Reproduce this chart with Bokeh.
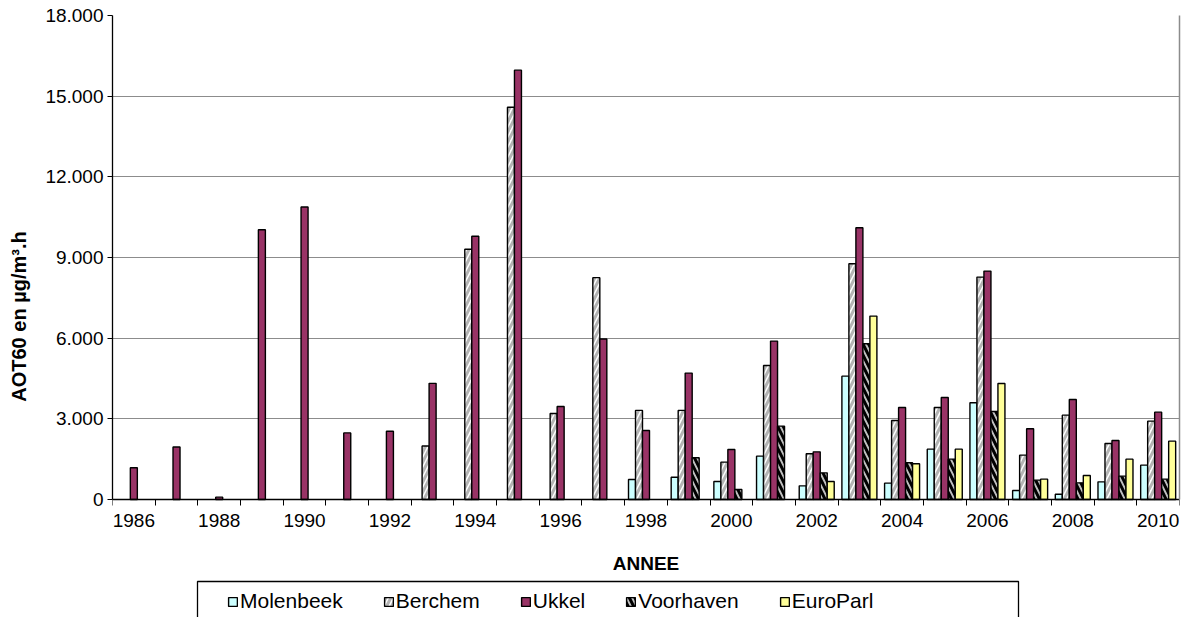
from bokeh.plotting import figure
from bokeh.models import (ColumnDataSource, Range1d, FixedTicker, Legend, LegendItem,
                          LinearAxis, BoxAnnotation)
from bokeh.embed import file_html
from bokeh.resources import INLINE

years = list(range(1986, 2011))
series_names = ["Molenbeek", "Berchem", "Ukkel", "Voorhaven", "EuroParl"]

molenbeek = [None] * 12 + [744, 830, 670, 1612, 508, 4588, 608, 1872, 3596, 335, 198, 657, 1277]
berchem = [None] * 7 + [1990, 9305, 14590, 3201, 8250, 3313, 3313, 1389, 4985, 1699, 8767,
                        2939, 3422, 8271, 1649, 3137, 2083, 2914]
ukkel = [1183, 1954, 87, 10030, 10880, 2477, 2539, 4320, 9789, 15968, 3461, 5970, 2568,
         4701, 1860, 5890, 1773, 10106, 3422, 3794, 8494, 2629, 3720, 2195, 3249]
voorhaven = [None] * 13 + [1552, 372, 2728, 992, 5791, 1364, 1500, 3274, 719, 620, 868, 756]
europarl = [None] * 16 + [670, 6820, 1327, 1872, 4315, 756, 893, 1500, 2170]

y_ticks = [0, 3000, 6000, 9000, 12000, 15000, 18000]
y_tick_labels = ["0", "3.000", "6.000", "9.000", "12.000", "15.000", "18.000"]
x_tick_years = years[::2]

FONT = "Liberation Sans"
Y_MAX = 18000
FRAME_LEFT, FRAME_W, FRAME_TOP = 112, 1067, 15
PLOT_PX = 484          # height of the value area
BELOW_PX = 118         # room under the value area for labels, title and legend
y_start = -Y_MAX * BELOW_PX / PLOT_PX


def px_to_x(px):
    return (px - FRAME_LEFT) / FRAME_W * len(years)


def px_to_y(py):
    return (FRAME_TOP + PLOT_PX - py) / PLOT_PX * Y_MAX


p = figure(frame_width=FRAME_W, frame_height=PLOT_PX + BELOW_PX,
           min_border_left=FRAME_LEFT, min_border_right=14, min_border_top=FRAME_TOP,
           min_border_bottom=0,
           x_range=Range1d(0, len(years)), y_range=Range1d(y_start, Y_MAX),
           output_backend="svg", toolbar_location=None)
p.background_fill_color = "white"
p.border_fill_color = "white"
p.outline_line_color = None
p.xgrid.visible = False
p.ygrid.grid_line_color = "#8c8c8c"
p.ygrid.grid_line_width = 1.2

# bars
w = 0.164
styles = [
    dict(fill_color="#CCFFFF", line_color="black"),
    dict(fill_color="white", line_color="black", hatch_pattern="/", hatch_color="#b4b4b4",
         hatch_scale=10, hatch_weight=3),
    dict(fill_color="#993366", line_color="black"),
    dict(fill_color="#C0C0C0", line_color="black", hatch_pattern="\\", hatch_color="black",
         hatch_scale=11, hatch_weight=3),
    dict(fill_color="#FFFF99", line_color="black"),
]
all_series = [molenbeek, berchem, ukkel, voorhaven, europarl]
items = []
for k, (name, vals, st) in enumerate(zip(series_names, all_series, styles)):
    xs, tops = [], []
    for i, v in enumerate(vals):
        if v is not None:
            xs.append(i + 0.5 + (k - 2) * w)
            tops.append(v)
    src = ColumnDataSource(dict(x=xs, top=tops))
    r = p.vbar(x="x", top="top", width=w, bottom=0, source=src, line_width=1.4, **st)
    items.append(LegendItem(label=name, renderers=[r]))

# x axis, pinned at value 0
xa = p.xaxis[0]
xa.fixed_location = 0
xa.ticker = FixedTicker(ticks=[years.index(y) + 0.5 for y in x_tick_years],
                        minor_ticks=list(range(len(years) + 1)))
xa.major_label_overrides = {years.index(y) + 0.5: str(y) for y in x_tick_years}
xa.major_tick_out = 0
xa.major_tick_in = 0
xa.minor_tick_out = 6
xa.minor_tick_in = 0
xa.minor_tick_line_color = "black"
xa.axis_line_color = "black"
xa.axis_line_width = 1.3
xa.major_label_text_font = FONT
xa.major_label_text_font_size = "19px"
xa.major_label_text_color = "black"
xa.major_label_standoff = 8
xa.axis_label = "ANNEE"
xa.axis_label_text_font = FONT
xa.axis_label_text_font_style = "bold"
xa.axis_label_text_font_size = "19px"
xa.axis_label_text_color = "black"
xa.axis_label_standoff = 23

ya = p.yaxis[0]
ya.bounds = (0, Y_MAX)
ya.ticker = FixedTicker(ticks=y_ticks, minor_ticks=[])
ya.major_label_overrides = {t: l for t, l in zip(y_ticks, y_tick_labels)}
ya.major_tick_out = 5
ya.major_tick_in = 0
ya.major_tick_line_color = "black"
ya.axis_line_color = "black"
ya.axis_line_width = 1.3
ya.major_label_text_font = FONT
ya.major_label_text_font_size = "19px"
ya.major_label_text_color = "black"
ya.major_label_standoff = 4
ya.axis_label = "AOT60 en µg/m³.h"
ya.axis_label_text_font = FONT
ya.axis_label_text_font_style = "bold"
ya.axis_label_text_font_size = "20px"
ya.axis_label_text_color = "black"
ya.axis_label_standoff = 12

# right border of the plot area
ra = LinearAxis(bounds=(0, Y_MAX), ticker=FixedTicker(ticks=[], minor_ticks=[]),
                major_tick_out=0, major_tick_in=0, minor_tick_out=0, minor_tick_in=0,
                axis_line_color="#8c8c8c", axis_line_width=1.5)
p.add_layout(ra, "right")

# legend frame (its lower edge falls outside the picture, as in the original)
legend_box = BoxAnnotation(left=px_to_x(197), right=px_to_x(1018),
                           top=px_to_y(581), bottom=px_to_y(660),
                           fill_alpha=0, line_color="black", line_alpha=1, line_width=1.3)
p.add_layout(legend_box)

legend = Legend(items=items, orientation="horizontal", location=(233 - 6 - FRAME_LEFT, 4),
                border_line_color=None, background_fill_alpha=0,
                label_text_font=FONT, label_text_font_size="21px", label_text_color="black",
                glyph_width=11, glyph_height=11, label_standoff=2, spacing=40,
                padding=6, margin=0)
p.add_layout(legend, "center")

open("out.html", "w").write(file_html(p, INLINE))
